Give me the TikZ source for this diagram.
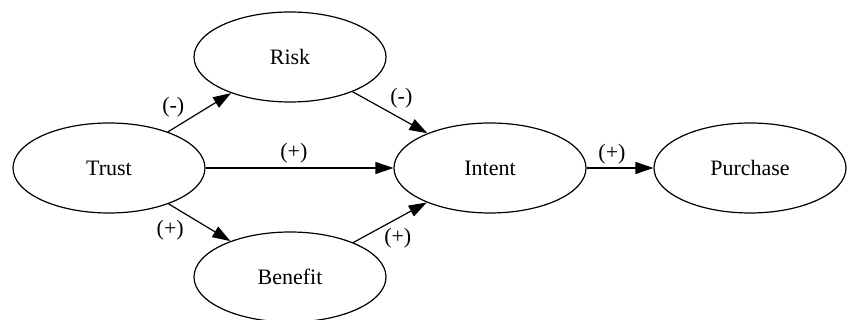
\documentclass[tikz,border=0pt]{standalone}
\usepackage{fontspec}
\setmainfont{Liberation Serif}
\usetikzlibrary{shapes.geometric,arrows.meta}

\begin{document}
\begin{tikzpicture}[x=1pt,y=1pt,
        font=\fontsize{22}{26}\selectfont,
        construct/.style={
          draw,ellipse,line width=1.2pt,minimum width=192pt,minimum height=90pt,inner sep=0pt
        },
        path/.style={
          line width=1.2pt,-{Triangle[length=18pt,width=12pt]}
        },
        sign/.style={inner sep=2pt}
      ]
      \useasboundingbox (0,0) rectangle (848,320);
      \node [construct] (trust) at (109,152) {Trust};
      \node [construct] (risk) at (290,263) {Risk};
      \node [construct] (benefit) at (290,43) {Benefit};
      \node [construct] (intent) at (490,152) {Intent};
      \node [construct] (purchase) at (750,152) {Purchase};
      \draw [path] (trust) -- (risk) node [sign,pos=.3,above left] {(-)};
      \draw [path] (trust) -- (benefit) node [sign,pos=.32,below left,inner sep=4pt] {(+)};
      \draw [path] (trust) -- (intent) node [sign,pos=.47,above,inner sep=4pt] {(+)};
      \draw [path] (risk) -- (intent) node [sign,pos=.47,above right] {(-)};
      \draw [path] (benefit) -- (intent) node [sign,pos=.4,below right,inner sep=1pt] {(+)};
      \draw [path] (intent) -- (purchase) node [sign,pos=.38,above,inner sep=3pt] {(+)};
    \end{tikzpicture}
\end{document}
